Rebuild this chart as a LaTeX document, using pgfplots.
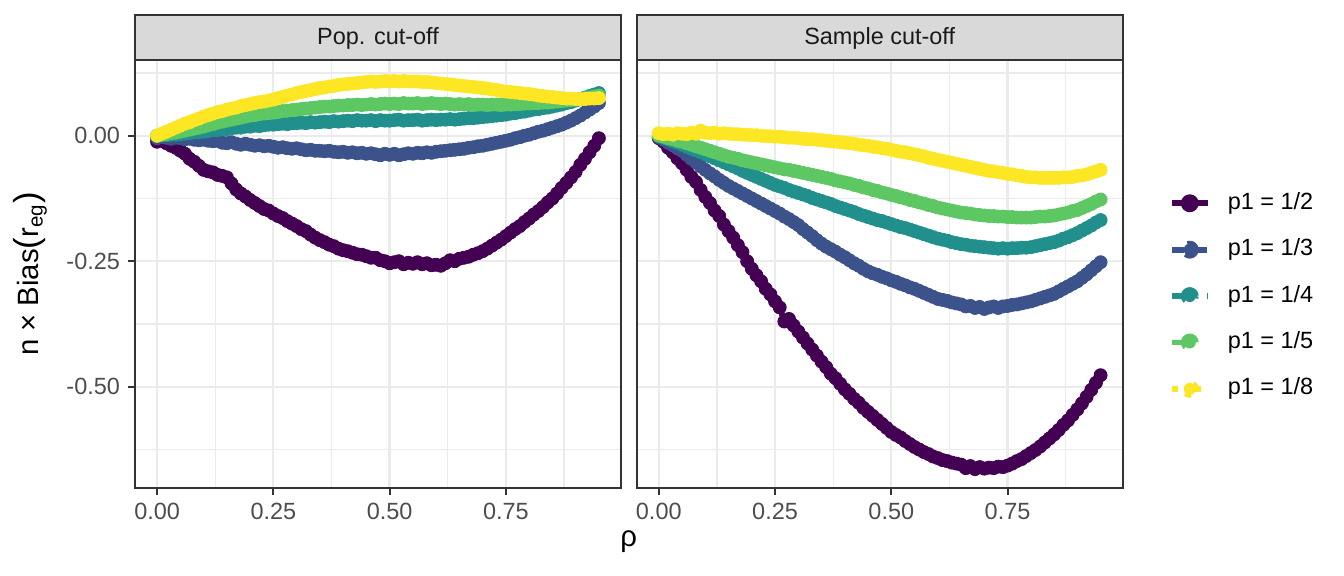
\documentclass[border=0pt]{standalone}
\usepackage{fontspec}
\setmainfont{Liberation Sans}
\usepackage{pgfplots}
\usepackage{pgfplotstable}
\pgfplotsset{compat=1.18}
\definecolor{v1}{HTML}{440154}
\definecolor{v2}{HTML}{3B528B}
\definecolor{v3}{HTML}{21908C}
\definecolor{v4}{HTML}{5DC863}
\definecolor{v5}{HTML}{FDE725}
\definecolor{g10}{HTML}{1A1A1A}
\definecolor{g20}{HTML}{333333}
\definecolor{g30}{HTML}{4D4D4D}
\definecolor{g85}{HTML}{D9D9D9}
\definecolor{g92}{HTML}{EBEBEB}

\pgfplotstableread{
rho a b c d e
0.00 -0.012 -0.005 0.000 0.000 0.000
0.01 -0.010 -0.003 0.001 0.002 0.004
0.02 -0.015 -0.004 0.001 0.003 0.008
0.03 -0.020 -0.006 0.002 0.005 0.012
0.04 -0.024 -0.004 0.002 0.006 0.016
0.05 -0.030 -0.005 0.003 0.008 0.020
0.06 -0.036 -0.007 0.004 0.010 0.024
0.07 -0.046 -0.006 0.005 0.012 0.027
0.08 -0.052 -0.008 0.007 0.014 0.031
0.09 -0.060 -0.009 0.007 0.016 0.034
0.10 -0.068 -0.008 0.008 0.018 0.038
0.11 -0.071 -0.010 0.009 0.021 0.041
0.12 -0.073 -0.011 0.011 0.023 0.044
0.13 -0.078 -0.010 0.011 0.026 0.047
0.14 -0.080 -0.014 0.013 0.028 0.049
0.15 -0.083 -0.015 0.013 0.030 0.052
0.16 -0.095 -0.013 0.015 0.032 0.054
0.17 -0.107 -0.016 0.016 0.034 0.056
0.18 -0.115 -0.018 0.016 0.036 0.059
0.19 -0.121 -0.016 0.018 0.038 0.061
0.20 -0.128 -0.018 0.018 0.040 0.063
0.21 -0.134 -0.020 0.020 0.041 0.065
0.22 -0.140 -0.019 0.019 0.043 0.067
0.23 -0.146 -0.021 0.021 0.044 0.068
0.24 -0.149 -0.020 0.022 0.045 0.070
0.25 -0.155 -0.022 0.022 0.046 0.072
0.26 -0.160 -0.024 0.023 0.047 0.075
0.27 -0.164 -0.023 0.024 0.049 0.077
0.28 -0.170 -0.025 0.023 0.050 0.080
0.29 -0.175 -0.026 0.025 0.051 0.082
0.30 -0.180 -0.025 0.025 0.052 0.085
0.31 -0.186 -0.027 0.026 0.053 0.087
0.32 -0.190 -0.029 0.025 0.054 0.089
0.33 -0.197 -0.028 0.027 0.055 0.091
0.34 -0.203 -0.030 0.026 0.056 0.093
0.35 -0.208 -0.030 0.027 0.057 0.095
0.36 -0.212 -0.031 0.028 0.058 0.096
0.37 -0.217 -0.030 0.027 0.058 0.098
0.38 -0.220 -0.032 0.029 0.059 0.099
0.39 -0.225 -0.033 0.028 0.060 0.101
0.40 -0.228 -0.032 0.029 0.060 0.102
0.41 -0.230 -0.034 0.030 0.061 0.103
0.42 -0.233 -0.033 0.029 0.061 0.104
0.43 -0.236 -0.035 0.031 0.062 0.105
0.44 -0.237 -0.034 0.030 0.061 0.106
0.45 -0.240 -0.036 0.030 0.062 0.107
0.46 -0.243 -0.035 0.031 0.063 0.108
0.47 -0.243 -0.037 0.029 0.062 0.107
0.48 -0.248 -0.039 0.031 0.063 0.108
0.49 -0.250 -0.036 0.030 0.064 0.109
0.50 -0.254 -0.038 0.030 0.063 0.108
0.51 -0.252 -0.036 0.031 0.064 0.109
0.52 -0.250 -0.039 0.032 0.063 0.108
0.53 -0.256 -0.037 0.030 0.065 0.109
0.54 -0.253 -0.035 0.031 0.064 0.108
0.55 -0.255 -0.036 0.031 0.064 0.108
0.56 -0.252 -0.034 0.032 0.065 0.108
0.57 -0.256 -0.035 0.030 0.063 0.107
0.58 -0.254 -0.033 0.031 0.064 0.107
0.59 -0.258 -0.034 0.032 0.065 0.106
0.60 -0.257 -0.032 0.031 0.064 0.105
0.61 -0.259 -0.031 0.032 0.063 0.104
0.62 -0.254 -0.030 0.032 0.064 0.103
0.63 -0.248 -0.029 0.033 0.063 0.102
0.64 -0.250 -0.028 0.032 0.062 0.101
0.65 -0.245 -0.027 0.033 0.063 0.100
0.66 -0.243 -0.026 0.034 0.062 0.099
0.67 -0.241 -0.024 0.035 0.063 0.098
0.68 -0.237 -0.023 0.035 0.061 0.097
0.69 -0.234 -0.021 0.036 0.062 0.096
0.70 -0.230 -0.020 0.037 0.062 0.095
0.71 -0.225 -0.018 0.038 0.061 0.094
0.72 -0.219 -0.016 0.039 0.062 0.092
0.73 -0.213 -0.014 0.040 0.062 0.091
0.74 -0.207 -0.012 0.041 0.061 0.089
0.75 -0.200 -0.010 0.042 0.062 0.088
0.76 -0.193 -0.008 0.044 0.062 0.087
0.77 -0.186 -0.005 0.045 0.063 0.086
0.78 -0.180 -0.003 0.047 0.063 0.085
0.79 -0.172 0.000 0.048 0.064 0.084
0.80 -0.165 0.002 0.050 0.064 0.083
0.81 -0.157 0.005 0.052 0.065 0.082
0.82 -0.150 0.008 0.053 0.065 0.080
0.83 -0.142 0.010 0.055 0.066 0.079
0.84 -0.133 0.013 0.056 0.066 0.078
0.85 -0.125 0.016 0.058 0.067 0.077
0.86 -0.115 0.019 0.060 0.068 0.076
0.87 -0.104 0.022 0.062 0.069 0.075
0.88 -0.094 0.026 0.065 0.070 0.074
0.89 -0.083 0.030 0.067 0.071 0.074
0.90 -0.072 0.035 0.070 0.072 0.073
0.91 -0.058 0.040 0.073 0.073 0.073
0.92 -0.046 0.046 0.076 0.075 0.073
0.93 -0.033 0.052 0.079 0.076 0.074
0.94 -0.020 0.058 0.082 0.078 0.074
0.95 -0.005 0.065 0.085 0.080 0.075
}\Ltab

\pgfplotstableread{
rho a b c d e
0.00 -0.005 -0.003 0.000 0.000 0.005
0.01 -0.012 -0.008 -0.004 -0.002 0.003
0.02 -0.024 -0.014 -0.007 -0.005 0.004
0.03 -0.033 -0.019 -0.011 -0.007 0.002
0.04 -0.045 -0.025 -0.014 -0.010 0.005
0.05 -0.055 -0.030 -0.018 -0.012 0.004
0.06 -0.068 -0.038 -0.022 -0.015 0.003
0.07 -0.082 -0.046 -0.026 -0.018 0.006
0.08 -0.092 -0.053 -0.029 -0.021 0.004
0.09 -0.108 -0.061 -0.033 -0.024 0.010
0.10 -0.122 -0.068 -0.037 -0.027 0.006
0.11 -0.134 -0.075 -0.041 -0.030 0.005
0.12 -0.149 -0.081 -0.045 -0.033 0.006
0.13 -0.160 -0.088 -0.049 -0.036 0.004
0.14 -0.177 -0.094 -0.053 -0.039 0.005
0.15 -0.190 -0.100 -0.057 -0.042 0.004
0.16 -0.203 -0.105 -0.061 -0.044 0.003
0.17 -0.218 -0.110 -0.065 -0.046 0.003
0.18 -0.232 -0.115 -0.070 -0.049 0.002
0.19 -0.250 -0.120 -0.074 -0.051 0.002
0.20 -0.265 -0.125 -0.078 -0.053 0.001
0.21 -0.278 -0.130 -0.082 -0.055 0.001
0.22 -0.290 -0.135 -0.086 -0.057 0.000
0.23 -0.305 -0.140 -0.090 -0.059 -0.001
0.24 -0.316 -0.145 -0.094 -0.061 -0.001
0.25 -0.330 -0.150 -0.098 -0.063 -0.002
0.26 -0.342 -0.155 -0.101 -0.065 -0.002
0.27 -0.370 -0.161 -0.104 -0.067 -0.003
0.28 -0.365 -0.166 -0.108 -0.068 -0.004
0.29 -0.378 -0.172 -0.111 -0.070 -0.004
0.30 -0.390 -0.178 -0.114 -0.072 -0.005
0.31 -0.402 -0.186 -0.117 -0.074 -0.006
0.32 -0.414 -0.193 -0.120 -0.076 -0.007
0.33 -0.426 -0.200 -0.124 -0.078 -0.007
0.34 -0.438 -0.208 -0.127 -0.080 -0.008
0.35 -0.450 -0.215 -0.130 -0.082 -0.009
0.36 -0.461 -0.221 -0.133 -0.084 -0.010
0.37 -0.474 -0.226 -0.136 -0.086 -0.011
0.38 -0.483 -0.231 -0.140 -0.089 -0.012
0.39 -0.494 -0.237 -0.143 -0.091 -0.013
0.40 -0.505 -0.242 -0.146 -0.093 -0.014
0.41 -0.514 -0.248 -0.149 -0.095 -0.015
0.42 -0.524 -0.254 -0.152 -0.098 -0.016
0.43 -0.532 -0.259 -0.156 -0.100 -0.018
0.44 -0.542 -0.265 -0.159 -0.103 -0.019
0.45 -0.550 -0.270 -0.162 -0.105 -0.020
0.46 -0.558 -0.274 -0.165 -0.108 -0.022
0.47 -0.566 -0.277 -0.168 -0.110 -0.023
0.48 -0.574 -0.281 -0.170 -0.113 -0.025
0.49 -0.582 -0.284 -0.173 -0.115 -0.026
0.50 -0.590 -0.288 -0.176 -0.118 -0.028
0.51 -0.596 -0.291 -0.179 -0.120 -0.030
0.52 -0.601 -0.295 -0.182 -0.123 -0.032
0.53 -0.608 -0.298 -0.184 -0.125 -0.033
0.54 -0.614 -0.302 -0.187 -0.128 -0.035
0.55 -0.620 -0.305 -0.190 -0.130 -0.037
0.56 -0.625 -0.309 -0.193 -0.133 -0.039
0.57 -0.630 -0.313 -0.196 -0.135 -0.041
0.58 -0.634 -0.317 -0.199 -0.138 -0.044
0.59 -0.639 -0.321 -0.202 -0.140 -0.046
0.60 -0.642 -0.325 -0.205 -0.143 -0.048
0.61 -0.646 -0.327 -0.207 -0.145 -0.050
0.62 -0.648 -0.329 -0.209 -0.147 -0.052
0.63 -0.651 -0.332 -0.212 -0.149 -0.054
0.64 -0.653 -0.334 -0.214 -0.151 -0.056
0.65 -0.655 -0.336 -0.216 -0.153 -0.058
0.66 -0.662 -0.340 -0.217 -0.154 -0.060
0.67 -0.658 -0.339 -0.219 -0.155 -0.062
0.68 -0.664 -0.343 -0.220 -0.157 -0.064
0.69 -0.660 -0.341 -0.221 -0.158 -0.066
0.70 -0.663 -0.345 -0.222 -0.159 -0.068
0.71 -0.661 -0.342 -0.223 -0.160 -0.070
0.72 -0.662 -0.340 -0.224 -0.160 -0.071
0.73 -0.659 -0.343 -0.225 -0.161 -0.073
0.74 -0.660 -0.340 -0.224 -0.161 -0.074
0.75 -0.657 -0.339 -0.225 -0.162 -0.076
0.76 -0.653 -0.337 -0.224 -0.162 -0.077
0.77 -0.648 -0.336 -0.224 -0.163 -0.079
0.78 -0.644 -0.334 -0.223 -0.163 -0.080
0.79 -0.638 -0.332 -0.223 -0.163 -0.082
0.80 -0.632 -0.330 -0.222 -0.163 -0.083
0.81 -0.626 -0.327 -0.220 -0.162 -0.083
0.82 -0.619 -0.324 -0.218 -0.161 -0.084
0.83 -0.611 -0.321 -0.216 -0.161 -0.084
0.84 -0.603 -0.318 -0.214 -0.160 -0.084
0.85 -0.595 -0.315 -0.212 -0.159 -0.084
0.86 -0.586 -0.310 -0.209 -0.157 -0.084
0.87 -0.576 -0.305 -0.205 -0.155 -0.083
0.88 -0.567 -0.300 -0.202 -0.153 -0.083
0.89 -0.556 -0.295 -0.198 -0.150 -0.082
0.90 -0.545 -0.290 -0.194 -0.148 -0.080
0.91 -0.533 -0.283 -0.189 -0.144 -0.079
0.92 -0.520 -0.276 -0.184 -0.140 -0.077
0.93 -0.506 -0.268 -0.179 -0.136 -0.074
0.94 -0.492 -0.260 -0.173 -0.131 -0.071
0.95 -0.477 -0.252 -0.168 -0.127 -0.068
}\Rtab

\pgfplotsset{
  panel/.style={
    scale only axis, width=182.25pt, height=160.39pt,
    xmin=-0.0475, xmax=0.9975, ymin=-0.701, ymax=0.1508,
    xtick={0,0.25,0.5,0.75}, xticklabels={0.00,0.25,0.50,0.75},
    minor xtick={0.125,0.375,0.625,0.875},
    ytick={-0.5,-0.25,0}, yticklabels={-0.50,-0.25,0.00},
    minor ytick={-0.625,-0.375,-0.125,0.125},
    grid=both,
    major grid style={color=g92, line width=0.85pt},
    minor grid style={color=g92, line width=0.45pt},
    tick align=outside, tick pos=left,
    major tick length=2.75pt, minor tick length=0pt,
    tick style={color=g20, line width=0.8pt},
    axis line style={color=g20, line width=0.7pt},
    ticklabel style={font=\fontsize{8.8}{10}\selectfont, text=g30, inner sep=0pt},
    xticklabel style={anchor=north, yshift=-3pt},
    yticklabel style={anchor=east, xshift=-2.7pt},
  },
  pts/.style={only marks, mark=*, mark size=2.45pt, color=#1, mark options={line width=0.3pt}, forget plot},
  ln/.style={no marks, color=#1, line width=2.2pt, line cap=butt, line join=round},
}

\begin{document}
\begin{tikzpicture}
\path[use as bounding box] (0,0) rectangle (504pt,216pt);

\begin{axis}[panel, name=L, at={(50.625pt,33.11pt)}, anchor=south west]
\addplot[pts=v1] table[x=rho,y=a]{\Ltab};
\addplot[pts=v2] table[x=rho,y=b]{\Ltab};
\addplot[pts=v3] table[x=rho,y=c]{\Ltab};
\addplot[pts=v4] table[x=rho,y=d]{\Ltab};
\addplot[pts=v5] table[x=rho,y=e]{\Ltab};
\addplot[ln=v1, solid] table[x=rho,y=a]{\Ltab};
\addplot[ln=v2, dash pattern=on 4.4pt off 4.4pt] table[x=rho,y=b]{\Ltab};
\addplot[ln=v3, dash pattern=on 8.8pt off 4.4pt] table[x=rho,y=c]{\Ltab};
\addplot[ln=v4, dash pattern=on 8.8pt off 8.8pt] table[x=rho,y=d]{\Ltab};
\addplot[ln=v5, dash pattern=on 2.2pt off 6.6pt] table[x=rho,y=e]{\Ltab};
\end{axis}

\begin{axis}[panel, name=R, at={(238.76pt,33.11pt)}, anchor=south west,
  yticklabels={}, ytick style={draw=none},
  legend image code/.code={\fill[#1] (6.75pt,0pt) circle[radius=2.25pt]; \draw[#1] (0pt,0pt) -- (13.5pt,0pt);},
  legend style={at={(1.095,0.448)}, anchor=west, draw=none, fill=none,
    inner sep=0pt, outer sep=0pt, font=\fontsize{8.8}{10}\selectfont,
    row sep=9.15pt, column sep=6.4pt,
    nodes={inner sep=0pt, text height=6.4pt, text depth=1.85pt}},
  legend cell align=left]
\addplot[pts=v1] table[x=rho,y=a]{\Rtab};
\addplot[pts=v2] table[x=rho,y=b]{\Rtab};
\addplot[pts=v3] table[x=rho,y=c]{\Rtab};
\addplot[pts=v4] table[x=rho,y=d]{\Rtab};
\addplot[pts=v5] table[x=rho,y=e]{\Rtab};
\addplot[ln=v1, solid] table[x=rho,y=a]{\Rtab};
\addlegendentry{p1 = 1/2}
\addplot[ln=v2, dash pattern=on 4.4pt off 4.4pt] table[x=rho,y=b]{\Rtab};
\addlegendentry{p1 = 1/3}
\addplot[ln=v3, dash pattern=on 8.8pt off 4.4pt] table[x=rho,y=c]{\Rtab};
\addlegendentry{p1 = 1/4}
\addplot[ln=v4, dash pattern=on 8.8pt off 8.8pt] table[x=rho,y=d]{\Rtab};
\addlegendentry{p1 = 1/5}
\addplot[ln=v5, dash pattern=on 2.2pt off 6.6pt] table[x=rho,y=e]{\Rtab};
\addlegendentry{p1 = 1/8}
\end{axis}

\foreach \ax/\ttl in {L/Pop. cut-off, R/Sample cut-off}{
  \draw[fill=g85, draw=g20, line width=0.7pt] (\ax.north west) rectangle ([yshift=16.875pt]\ax.north east);
  \node[anchor=base, inner sep=0pt, text=g10, font=\fontsize{8.8}{10}\selectfont] at ([yshift=5.625pt]\ax.north) {\ttl};
}

\node[anchor=base, inner sep=0pt, font=\fontsize{11}{13}\selectfont] at (235.8pt,11.0pt) {ρ};
\node[rotate=90, anchor=center, inner sep=0pt, font=\fontsize{11}{13}\selectfont] at (11.25pt,113.25pt) {n × Bias{\fontsize{13}{13}\selectfont(}r\textsubscript{eg}{\fontsize{13}{13}\selectfont)}};
\end{tikzpicture}
\end{document}
